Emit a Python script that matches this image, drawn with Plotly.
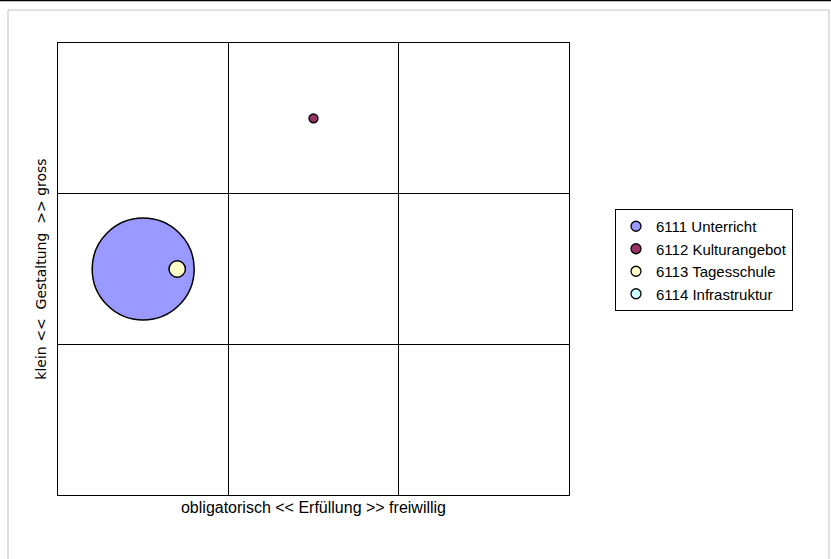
import plotly.graph_objects as go

series_names = ["6111 Unterricht", "6112 Kulturangebot", "6113 Tagesschule", "6114 Infrastruktur"]
x_erfuellung = [0.5, 1.5, 0.7, 1.5]
y_gestaltung = [1.5, 2.5, 1.5, 1.5]
volumen = [12000, 90, 310, 0]
colors = ["#9999FF", "#993366", "#FFFFCC", "#CCFFFF"]

x_title = "obligatorisch << Erfüllung >> freiwillig"
y_title = "klein <<  Gestaltung  >> gross"

W, H = 831, 559
L, R, T, B = 58, 262, 43, 64
pw, ph = W - L - R, H - T - B

sizeref = 2 * 12000 / 102.0 ** 2

fig = go.Figure()
for name, xv, yv, v, c in zip(series_names, x_erfuellung, y_gestaltung, volumen, colors):
    fig.add_trace(go.Scatter(
        x=[xv], y=[yv], mode="markers", name=name, showlegend=False,
        marker=dict(size=[v], sizemode="area", sizeref=sizeref, sizemin=0,
                    color=c, opacity=1, line=dict(color="black", width=1.5)),
        hoverinfo="name"))
    fig.add_trace(go.Scatter(
        x=[None], y=[None], mode="markers", name=name, showlegend=True,
        marker=dict(size=10, color=c, line=dict(color="black", width=1.3))))

def px_x(p):
    return (p - L) / pw

def px_y(p):
    return (H - B - p) / ph

fig.add_shape(type="rect", xref="paper", yref="paper",
              x0=px_x(8), x1=px_x(829), y0=px_y(575), y1=px_y(10),
              line=dict(color="#C0C0C0", width=1), layer="below")
fig.add_shape(type="line", xref="paper", yref="paper",
              x0=px_x(-5), x1=px_x(840), y0=px_y(0.5), y1=px_y(0.5),
              line=dict(color="black", width=1.5))

axis_common = dict(range=[0, 3], tickvals=[1, 2], showticklabels=False, ticks="",
                   showgrid=True, gridcolor="black", gridwidth=1, zeroline=False,
                   showline=True, linecolor="black", linewidth=1, mirror=True,
                   fixedrange=True)

fig.update_layout(
    width=W, height=H,
    margin=dict(l=L, r=R, t=T, b=B, pad=0),
    paper_bgcolor="white", plot_bgcolor="white",
    font=dict(family="Liberation Sans, Arial", color="black", size=13),
    xaxis=dict(axis_common, title=dict(text=x_title, standoff=6,
                                       font=dict(family="Liberation Sans, Arial", size=16))),
    yaxis=dict(axis_common, title=dict(text=y_title, standoff=7,
                                       font=dict(family="DejaVu Sans", size=14))),
    legend=dict(x=px_x(615), y=px_y(209), xanchor="left", yanchor="top",
                bordercolor="black", borderwidth=1, bgcolor="white",
                font=dict(family="Liberation Sans, Arial", size=15),
                itemwidth=30, tracegroupgap=0),
    showlegend=True,
)

fig.write_html("out.html", config={"displayModeBar": False},
               post_script="document.body.style.margin='0';")
